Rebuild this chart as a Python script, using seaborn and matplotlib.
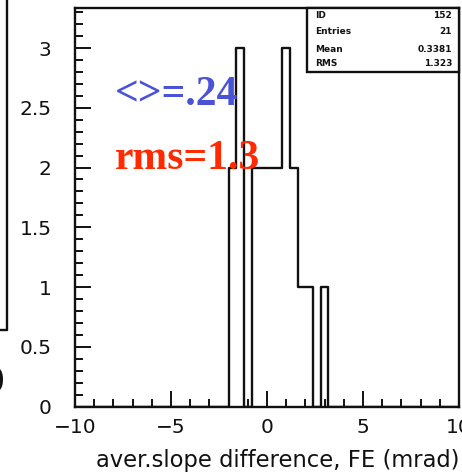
import numpy as np
import pandas as pd
import matplotlib
matplotlib.use("Agg")
import matplotlib.pyplot as plt
from matplotlib.patches import Rectangle
from matplotlib.lines import Line2D
import seaborn as sns

# Histogram contents: bin centres (0.4 mrad bins on [-10, 10]) and entries
bin_centres = [-1.8, -1.4, -0.6, -0.2, 0.2, 0.6, 1.0, 1.4, 1.8, 2.2, 3.0]
bin_counts = [2, 3, 2, 2, 2, 2, 3, 2, 1, 1, 1]

# Statistics box entries
stat_names = ["ID", "Entries", "Mean", "RMS"]
stat_values = ["152", "21", "0.3381", "1.323"]

x_major = [-10, -5, 0, 5, 10]
x_major_labels = ["\u221210", "\u22125", "0", "5", "10"]
y_major = [0, 0.5, 1, 1.5, 2, 2.5, 3]
y_major_labels = ["0", "0.5", "1", "1.5", "2", "2.5", "3"]

sns.set_theme(style="white")
plt.rcParams["font.family"] = ["DejaVu Sans"]

W, H = 462, 474
fig = plt.figure(figsize=(W / 100, H / 100), dpi=100)
ax = fig.add_axes([75 / W, 1 - 406.5 / H, 384 / W, 398.5 / H])

hist_df = pd.DataFrame({"slope_diff": bin_centres, "entries": bin_counts})
sns.histplot(data=hist_df, x="slope_diff", weights="entries", bins=50,
             binrange=(-10, 10), element="step", fill=False,
             color="#111111", linewidth=1.7, ax=ax)

ax.set_xlim(-10, 10)
ax.set_ylim(0, 3.335)
ax.set_ylabel("")
ax.set_xlabel("aver.slope difference, FE (mrad)", fontsize=16.3, ha="right",
              va="center", color="#111111")
ax.xaxis.set_label_coords(1.0, -(461 - 406.5) / 398.5)

ax.set_xticks(x_major)
ax.set_xticklabels(x_major_labels)
ax.set_xticks(np.arange(-10, 10.01, 1), minor=True)
ax.set_yticks(y_major)
ax.set_yticklabels(y_major_labels)
ax.set_yticks(np.arange(0, 3.31, 0.1), minor=True)

ax.tick_params(axis="both", which="both", bottom=True, left=True,
               top=False, right=False)
ax.tick_params(axis="both", which="major", direction="in", length=11.5,
               width=1.4, color="#111111", labelsize=14.5,
               labelcolor="#111111")
ax.tick_params(axis="both", which="minor", direction="in", length=5.8,
               width=1.4, color="#111111")
ax.tick_params(axis="x", which="major", pad=8.5)
ax.tick_params(axis="y", which="major", pad=17)

for side in ["left", "right", "top", "bottom"]:
    ax.spines[side].set_visible(True)
    ax.spines[side].set_color("#111111")
    ax.spines[side].set_linewidth(1.7)

# Statistics box in the upper right corner
bx0 = (307 - 75) / 384
by0 = (406.5 - 72) / 398.5
ax.add_patch(Rectangle((bx0, by0), 1 - bx0, 1 - by0, transform=ax.transAxes,
                       facecolor="white", edgecolor="#111111", linewidth=1.7,
                       zorder=5, clip_on=False))
row_y = [15, 32, 49, 64]
for name, val, py in zip(stat_names, stat_values, row_y):
    yy = 1 - (py - 8) / 398.5
    ax.text((315 - 75) / 384, yy, name, transform=ax.transAxes, fontsize=6.5,
            fontweight="bold", va="center", ha="left", zorder=6,
            color="#111111")
    ax.text((452 - 75) / 384, yy, val, transform=ax.transAxes, fontsize=6.5,
            fontweight="bold", va="center", ha="right", zorder=6,
            color="#111111")

# Annotations
ax.text(-7.9, 2.52, "<>=.24", fontsize=30, fontweight="bold",
        family=["Liberation Serif", "DejaVu Serif"], color="#4a52d6",
        va="baseline", ha="left")
ax.text(-7.9, 1.99, "rms=1.3", fontsize=30, fontweight="bold",
        family=["Liberation Serif", "DejaVu Serif"], color="#ff2a00",
        va="baseline", ha="left")

# Edge of the neighbouring panel on the left
fig.add_artist(Line2D([7 / W, 7 / W], [1, 1 - 330 / H], color="#111111",
                      linewidth=1.7))
fig.add_artist(Line2D([0, 7 / W], [1 - 330 / H, 1 - 330 / H],
                      color="#111111", linewidth=1.7))
fig.text(-16 / W, 1 - 383 / H, "0", fontsize=24, ha="left", va="center",
         color="#111111")

fig.savefig("out.png", dpi=100)
